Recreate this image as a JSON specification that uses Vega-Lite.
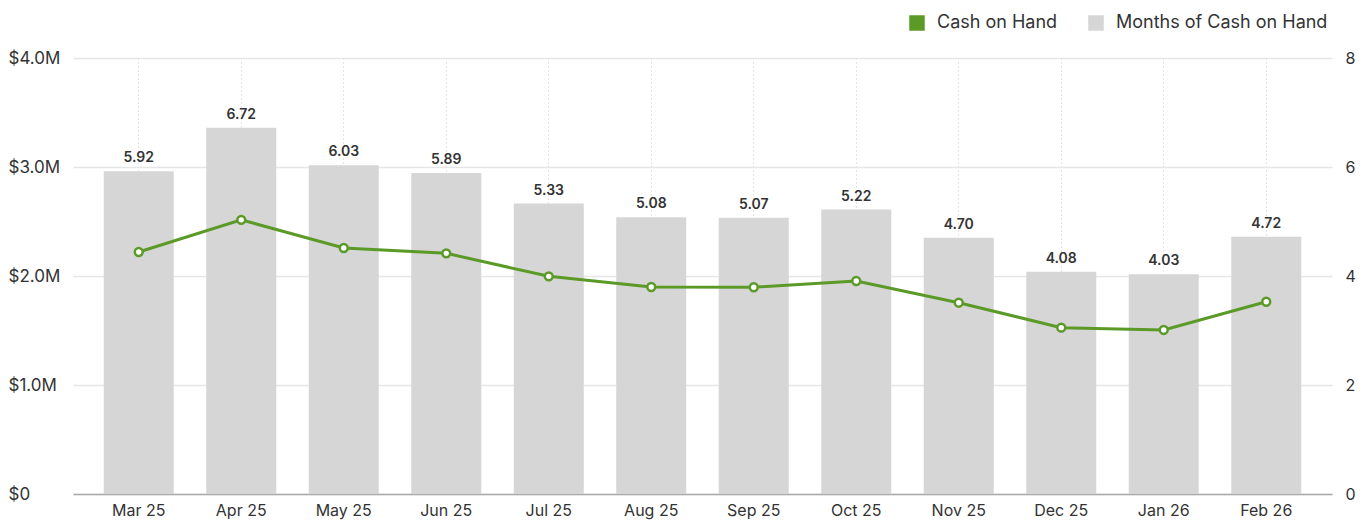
{
  "$schema": "https://vega.github.io/schema/vega-lite/v6.json",
  "autosize": {"type": "none"},
  "padding": {"left": 73, "top": 58, "right": 40, "bottom": 27},
  "width": 1259,
  "height": 436,
  "data": {
    "values": [
      {"month": "Mar 25", "cash": 2220000, "months": 5.92},
      {"month": "Apr 25", "cash": 2515000, "months": 6.72},
      {"month": "May 25", "cash": 2257000, "months": 6.03},
      {"month": "Jun 25", "cash": 2208000, "months": 5.89},
      {"month": "Jul 25", "cash": 1997000, "months": 5.33},
      {"month": "Aug 25", "cash": 1899000, "months": 5.08},
      {"month": "Sep 25", "cash": 1897000, "months": 5.07},
      {"month": "Oct 25", "cash": 1954000, "months": 5.22},
      {"month": "Nov 25", "cash": 1755000, "months": 4.70},
      {"month": "Dec 25", "cash": 1526000, "months": 4.08},
      {"month": "Jan 26", "cash": 1505000, "months": 4.03},
      {"month": "Feb 26", "cash": 1764000, "months": 4.72}
    ]
  },
  "encoding": {
    "x": {
      "field": "month",
      "type": "nominal",
      "sort": null,
      "scale": {"paddingInner": 0.317, "paddingOuter": 0.3},
      "axis": {
        "title": null,
        "labelAngle": 0,
        "grid": true,
        "gridDash": [1, 3],
        "gridColor": "#c8c8c8",
        "gridWidth": 1,
        "bandPosition": 0.5,
        "ticks": false,
        "domainColor": "#aaaaaa",
        "domainWidth": 1.5,
        "labelFontSize": 16,
        "labelPadding": 8,
        "labelColor": "#333333"
      }
    }
  },
  "layer": [
    {
      "layer": [
        {
          "mark": {"type": "bar"},
          "encoding": {
            "y": {
              "field": "months",
              "type": "quantitative",
              "scale": {"domain": [0, 8], "nice": false},
              "axis": {
                "orient": "right",
                "title": null,
                "values": [0, 2, 4, 6, 8],
                "grid": false,
                "ticks": false,
                "domain": false,
                "labelAlign": "left",
                "labelPadding": 13,
                "labelFontSize": 16,
                "labelColor": "#333333"
              }
            },
            "color": {
              "datum": "Months of Cash on Hand",
              "type": "nominal",
              "scale": {
                "domain": ["Cash on Hand", "Months of Cash on Hand"],
                "range": ["#5b9a27", "#d6d6d6"]
              },
              "legend": {
                "title": null,
                "orient": "none",
                "direction": "horizontal",
                "legendX": 835,
                "legendY": -44,
                "symbolType": "square",
                "symbolSize": 196,
                "labelFontSize": 18,
                "labelLimit": 400,
                "labelColor": "#333333",
                "labelOffset": 11,
                "columnPadding": 28,
                "padding": 0,
                "encode": {
                  "symbols": {
                    "update": {
                      "fill": {"scale": "color", "field": "value"},
                      "stroke": {"value": "transparent"},
                      "shape": {"value": "square"},
                      "opacity": {"value": 1}
                    }
                  }
                }
              }
            }
          }
        },
        {
          "mark": {"type": "text", "baseline": "bottom", "dy": -6, "fontSize": 14, "fontWeight": 600, "color": "#333333"},
          "encoding": {
            "y": {"field": "months", "type": "quantitative", "scale": {"domain": [0, 8], "nice": false}},
            "text": {"field": "months", "type": "quantitative", "format": ".2f"}
          }
        }
      ]
    },
    {
      "layer": [
        {
          "mark": {"type": "line", "strokeWidth": 3},
          "encoding": {
            "y": {
              "field": "cash",
              "type": "quantitative",
              "scale": {"domain": [0, 4000000], "nice": false},
              "axis": {
                "orient": "left",
                "title": null,
                "values": [0, 1000000, 2000000, 3000000, 4000000],
                "labelExpr": "datum.value == 0 ? '$0' : '$' + format(datum.value / 1000000, '.1f') + 'M'",
                "grid": true,
                "gridColor": "#e6e6e6",
                "gridWidth": 1.5,
                "ticks": false,
                "domain": false,
                "labelAlign": "left",
                "labelPadding": 65,
                "labelFontSize": 17,
                "labelColor": "#333333"
              }
            },
            "color": {"datum": "Cash on Hand", "type": "nominal"}
          }
        },
        {
          "mark": {"type": "point", "filled": true, "fill": "white", "stroke": "#5b9a27", "strokeWidth": 2.5, "size": 62, "opacity": 1},
          "encoding": {
            "y": {"field": "cash", "type": "quantitative", "scale": {"domain": [0, 4000000], "nice": false}}
          }
        }
      ]
    }
  ],
  "resolve": {"scale": {"y": "independent"}},
  "config": {
    "font": "Inter",
    "view": {"stroke": null},
    "axis": {"labelFont": "Inter"},
    "legend": {"labelFont": "Inter"}
  }
}
